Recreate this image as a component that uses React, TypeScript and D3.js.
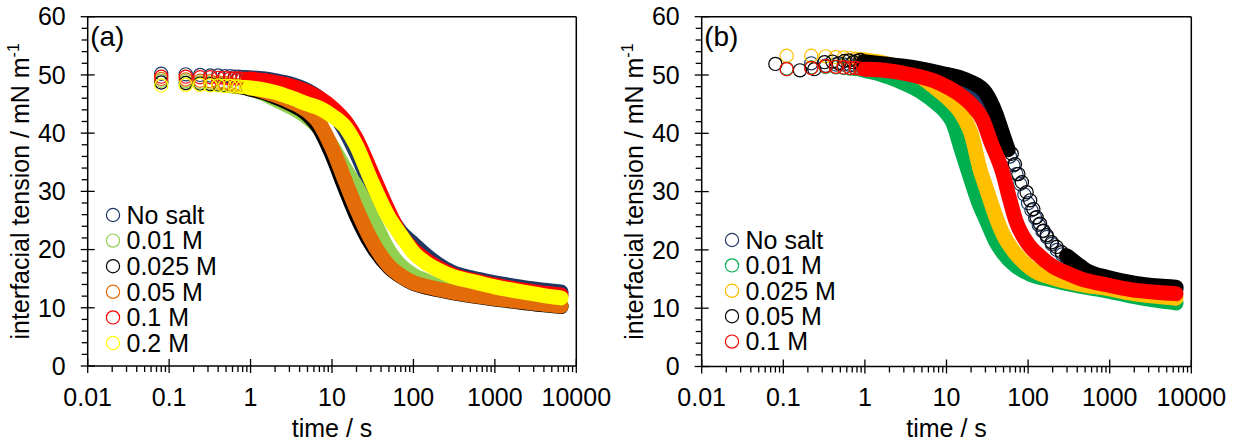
import React from 'react';
import * as d3 from 'd3';

type Pt = [number, number];

const xTickValues = [0.01, 0.1, 1, 10, 100, 1000, 10000];
const xTickLabels = ['0.01', '0.1', '1', '10', '100', '1000', '10000'];
const yTickValues = [0, 10, 20, 30, 40, 50, 60];
const yTickLabels = ['0', '10', '20', '30', '40', '50', '60'];

const aLabels = ['No salt', '0.01 M', '0.025 M', '0.05 M', '0.1 M', '0.2 M'];
const bLabels = ['No salt', '0.01 M', '0.025 M', '0.05 M', '0.1 M'];

// ---------- panel (a) ----------
const aNoSalt: Pt[] = [
  [0.08, 50.2], [0.16, 50.1], [0.24, 50.0], [0.32, 49.9], [0.4, 49.9], [0.48, 49.8], [0.56, 49.8], [0.64, 49.7],
  [0.72, 49.7], [0.8, 49.6], [0.88, 49.6], [0.96, 49.5], [1.5, 49.3], [2, 49.0], [3, 48.5], [5, 47.3], [7, 46.0],
  [10, 43.8], [15, 40], [20, 36.5], [30, 31], [50, 26], [70, 23], [100, 21], [150, 18.8], [200, 17.5], [300, 16.1],
  [500, 15.2], [1000, 14.3], [2000, 13.6], [4000, 13.0], [6500, 12.7],
];
const a001: Pt[] = [
  [0.08, 49.0], [0.16, 48.9], [0.24, 48.7], [0.32, 48.6], [0.4, 48.5], [0.48, 48.3], [0.56, 48.2], [0.64, 48.1],
  [0.72, 48.0], [0.8, 47.9], [0.88, 47.8], [0.96, 47.7], [1.5, 46.7], [2, 45.8], [3, 44.6], [5, 42.7], [7, 40.8],
  [10, 37.8], [15, 33.5], [20, 30.8], [30, 26], [50, 19.8], [70, 17.2], [100, 15.6], [150, 14.5], [200, 13.8],
  [300, 13.1], [500, 12.4], [1000, 11.8], [2000, 11.2], [4000, 10.7], [6500, 10.4],
];
const a0025: Pt[] = [
  [0.08, 48.7], [0.16, 48.6], [0.24, 48.5], [0.32, 48.4], [0.4, 48.3], [0.48, 48.2], [0.56, 48.1], [0.64, 48.0],
  [0.72, 47.9], [0.8, 47.8], [0.88, 47.7], [0.96, 47.6], [1.5, 46.9], [2, 46.2], [3, 45.1], [5, 43.2], [7, 40.8],
  [10, 36.3], [15, 30], [20, 25.8], [30, 21], [50, 17], [70, 15.4], [100, 14.2], [150, 13.5], [200, 13.1],
  [300, 12.6], [500, 12.1], [1000, 11.5], [2000, 11.0], [4000, 10.5], [6500, 10.2],
];
const a005: Pt[] = [
  [0.08, 49.3], [0.16, 49.2], [0.24, 49.0], [0.32, 48.9], [0.4, 48.7], [0.48, 48.6], [0.56, 48.5], [0.64, 48.3],
  [0.72, 48.2], [0.8, 48.1], [0.88, 48.0], [0.96, 47.9], [1.5, 47.1], [2, 46.5], [3, 45.5], [5, 43.8], [7, 41.7],
  [10, 37.5], [15, 31.3], [20, 27], [30, 21.8], [50, 17.2], [70, 15.5], [100, 14.3], [150, 13.6], [200, 13.2],
  [300, 12.7], [500, 12.2], [1000, 11.6], [2000, 11.1], [4000, 10.6], [6500, 10.3],
];
const a01: Pt[] = [
  [0.08, 49.7], [0.16, 49.7], [0.24, 49.6], [0.32, 49.6], [0.4, 49.5], [0.48, 49.5], [0.56, 49.4], [0.64, 49.4],
  [0.72, 49.4], [0.8, 49.3], [0.88, 49.3], [0.96, 49.3], [1.5, 49.0], [2, 48.7], [3, 48.2], [5, 47.1], [7, 46.0],
  [10, 44.4], [15, 41.8], [20, 39], [30, 33.5], [50, 26.5], [70, 22.5], [100, 20], [150, 18], [200, 16.9],
  [300, 15.7], [500, 14.8], [1000, 13.9], [2000, 13.1], [4000, 12.5], [6500, 12.2],
];
const a02: Pt[] = [
  [0.08, 48.2], [0.16, 48.3], [0.24, 48.3], [0.32, 48.2], [0.4, 48.2], [0.48, 48.1], [0.56, 48.1], [0.64, 48.0],
  [0.72, 48.0], [0.8, 47.9], [0.88, 47.9], [0.96, 47.8], [1.5, 47.4], [2, 47.0], [3, 46.2], [5, 45.0], [7, 44.3],
  [10, 43.0], [15, 40.8], [20, 37.8], [30, 32], [50, 25.5], [70, 22.5], [100, 19.5], [150, 17.5], [200, 16.5],
  [300, 15.4], [500, 14.6], [1000, 13.6], [2000, 12.8], [4000, 12.1], [6500, 11.7],
];

// ---------- panel (b) ----------
const bNoSalt: Pt[] = [
  [0.22, 52.0], [0.33, 51.6], [0.44, 51.8], [0.55, 51.8], [0.66, 51.7], [0.77, 51.6], [0.88, 51.6], [0.99, 51.5],
  [1.5, 51.4], [2, 51.2], [3, 51.0], [5, 50.6], [7, 50.3], [10, 49.8], [15, 49], [20, 48], [30, 45.5], [40, 42],
  [50, 38.5], [60, 36], [66, 34.5], [72, 33], [80, 31.3], [90, 29.5], [100, 28], [110, 26.8], [122, 25.5],
  [135, 24.3], [150, 23.2], [170, 22.2], [195, 21.0], [225, 20.0], [260, 19.2], [300, 18.4], [500, 16.2],
  [1000, 14.8], [2000, 14.0], [4000, 13.5], [6500, 13.2],
];
const b001: Pt[] = [
  [0.11, 51.1], [0.22, 51.3], [0.33, 51.4], [0.44, 51.3], [0.55, 51.2], [0.66, 51.1], [0.77, 51.0], [0.88, 50.9],
  [0.99, 50.8], [1.5, 50.2], [2, 49.6], [3, 48.6], [5, 47.0], [7, 45.5], [10, 43.5], [12, 41.8], [15, 37.5],
  [18, 34], [25, 28], [31, 25], [40, 21.5], [50, 19.4], [70, 17.3], [100, 16.0], [200, 14.8], [430, 13.8],
  [1000, 12.9], [1800, 12.1], [4000, 11.3], [6500, 10.9],
];
const b0025: Pt[] = [
  [0.11, 53.3], [0.22, 53.3], [0.33, 53.2], [0.44, 53.1], [0.55, 53.0], [0.66, 52.9], [0.77, 52.8], [0.88, 52.7],
  [0.99, 52.6], [1.5, 52.2], [2, 51.8], [3, 51.0], [5, 49.5], [7, 48.0], [10, 46.2], [15, 43.5], [17, 42.2],
  [20, 40], [26, 33.6], [30, 31], [42, 25], [50, 22.5], [70, 19.4], [100, 17.2], [120, 16.4], [200, 15.2],
  [430, 14.1], [1000, 13.3], [1800, 12.6], [4000, 12.0], [6500, 11.7],
];
const b005: Pt[] = [
  [0.08, 51.9], [0.16, 50.8], [0.24, 51.0], [0.32, 52.2], [0.4, 52.3], [0.48, 52.0], [0.56, 52.4], [0.64, 52.5],
  [0.72, 52.2], [0.8, 52.4], [0.88, 52.6], [0.96, 52.3], [1.5, 52.0], [2, 51.8], [3, 51.5], [5, 51.0], [7, 50.6],
  [10, 50.1], [15, 49.5], [20, 48.8], [30, 47], [40, 43.5], [50, 39.5], [57, 37.2], [63, 36.5], [69, 34.7],
  [76, 33.0], [84, 31.6], [96, 29.9], [106, 28.5], [116, 27.0], [127, 25.6], [140, 24.5], [154, 23.3],
  [169, 22.5], [195, 21.3], [224, 20.5], [258, 19.6], [297, 19.0], [400, 17.6], [500, 16.6], [1000, 15.2],
  [2000, 14.3], [4000, 13.8], [6500, 13.6],
];
const b01: Pt[] = [
  [0.11, 51.0], [0.22, 51.2], [0.33, 51.5], [0.44, 51.4], [0.55, 51.3], [0.66, 51.2], [0.77, 51.2], [0.88, 51.1],
  [0.99, 51.0], [1.5, 50.9], [2, 50.7], [3, 50.3], [5, 49.6], [7, 49.0], [10, 48.0], [15, 46.5], [20, 45.0],
  [28, 42.2], [35, 38.5], [48, 33.6], [60, 28.5], [70, 25.2], [100, 21], [130, 19.3], [200, 17.2], [300, 16.0],
  [430, 15.1], [1000, 13.9], [1800, 13.2], [4000, 12.7], [6500, 12.5],
];

type Series = { data: Pt[]; color: string; ringRange?: [number, number] };

const NAVY = '#203864';
const aSeries: Series[] = [
  { data: aNoSalt, color: NAVY },
  { data: a001, color: '#92D050' },
  { data: a0025, color: '#000000' },
  { data: a005, color: '#E36C09' },
  { data: a01, color: '#FF0000' },
  { data: a02, color: '#FFFF00' },
];
const bSeries: Series[] = [
  { data: bNoSalt, color: NAVY, ringRange: [55, 290] },
  { data: b001, color: '#00B050' },
  { data: b0025, color: '#FFC000' },
  { data: b005, color: '#000000', ringRange: [60, 290] },
  { data: b01, color: '#FF0000' },
];

const FONT = '"Liberation Sans", Arial, sans-serif';
const BAND_FROM = 0.95;

type PanelProps = {
  left: number; right: number; top: number; bottom: number;
  series: Series[]; labels: string[];
  legX: number; legY: number; legStep: number;
  tag: string; titleX: number;
};

function Panel(p: PanelProps) {
  const x = d3.scaleLog().domain([0.01, 10000]).range([p.left, p.right]);
  const y = d3.scaleLinear().domain([0, 60]).range([p.bottom, p.top]);
  const inRing = (s: Series, t: number) => !!s.ringRange && t >= s.ringRange[0] && t <= s.ringRange[1];

  const minorX: number[] = [];
  for (let e = -2; e < 4; e++) for (let k = 2; k <= 9; k++) minorX.push(k * Math.pow(10, e));
  const minorY: number[] = [];
  for (let v = 2; v < 60; v += 2) if (v % 10 !== 0) minorY.push(v);

  const cx = (p.left + p.right) / 2;
  const cy = (p.top + p.bottom) / 2;

  return (
    <g>
      {p.series.map((s, i) => {
        const line = d3.line<Pt>()
          .defined((d) => d[0] >= BAND_FROM && !inRing(s, d[0]))
          .x((d) => x(d[0]))
          .y((d) => y(d[1]))
          .curve(d3.curveMonotoneX);
        const rings = s.data.filter((d) => d[0] < BAND_FROM || inRing(s, d[0]));
        return (
          <g key={i}>
            <path d={line(s.data) || ''} fill="none" stroke={s.color} strokeWidth={15}
              strokeLinecap="round" strokeLinejoin="round" />
            {rings.map((d, j) => (
              <circle key={j} cx={x(d[0])} cy={y(d[1])} r={6.6} fill="none" stroke={s.color} strokeWidth={1.2} />
            ))}
          </g>
        );
      })}

      <g stroke="#000" strokeWidth={1.5} fill="none">
        <line x1={p.left} y1={p.top} x2={p.right} y2={p.top} />
        <line x1={p.right} y1={p.top} x2={p.right} y2={p.bottom} />
        <line x1={p.left} y1={p.top} x2={p.left} y2={p.bottom} />
        <line x1={p.left} y1={p.bottom} x2={p.right} y2={p.bottom} />
      </g>
      <g stroke="#000" strokeWidth={1.3}>
        {xTickValues.map((v, i) => (
          <line key={'xm' + i} x1={x(v)} x2={x(v)} y1={p.bottom - 7} y2={p.bottom + 7} />
        ))}
        {minorX.map((v, i) => (
          <line key={'xn' + i} x1={x(v)} x2={x(v)} y1={p.bottom} y2={p.bottom + 6} />
        ))}
        {yTickValues.map((v, i) => (
          <line key={'ym' + i} x1={p.left - 7} x2={p.left + 7} y1={y(v)} y2={y(v)} />
        ))}
        {minorY.map((v, i) => (
          <line key={'yn' + i} x1={p.left - 6} x2={p.left} y1={y(v)} y2={y(v)} />
        ))}
      </g>
      <g fontFamily={FONT} fontSize={25} fill="#000">
        {xTickValues.map((v, i) => (
          <text key={'xl' + i} x={x(v)} y={406} textAnchor="middle">{xTickLabels[i]}</text>
        ))}
        {yTickValues.map((v, i) => (
          <text key={'yl' + i} x={p.left - 22} y={y(v)} dy="0.35em" textAnchor="end">{yTickLabels[i]}</text>
        ))}
        <text x={cx} y={436.5} textAnchor="middle">time / s</text>
        <text transform={`translate(${p.titleX},${cy}) rotate(-90)`} textAnchor="middle">
          interfacial tension / mN m<tspan fontSize={16} dy={-10}>-1</tspan>
        </text>
        <text x={p.left + 2.5} y={46} fontSize={28}>{p.tag}</text>
        {p.labels.map((l, i) => (
          <g key={'lg' + i}>
            <circle cx={p.legX} cy={p.legY + i * p.legStep} r={6.6} fill="none"
              stroke={p.series[i].color} strokeWidth={1.2} />
            <text x={p.legX + 13.5} y={p.legY + i * p.legStep} dy="0.35em">{l}</text>
          </g>
        ))}
      </g>
    </g>
  );
}

export default function App() {
  return (
    <svg width={1238} height={441} style={{ position: 'absolute', left: 0, top: 0, background: '#fff' }}>
      <rect width={1238} height={441} fill="#fff" />
      <Panel left={87.7} right={576.3} top={16.7} bottom={366} series={aSeries} labels={aLabels}
        legX={113} legY={215} legStep={25.6} tag="(a)" titleX={28.5} />
      <Panel left={701.7} right={1191.3} top={16.7} bottom={366.5} series={bSeries} labels={bLabels}
        legX={732} legY={240} legStep={25.4} tag="(b)" titleX={642.5} />
    </svg>
  );
}
